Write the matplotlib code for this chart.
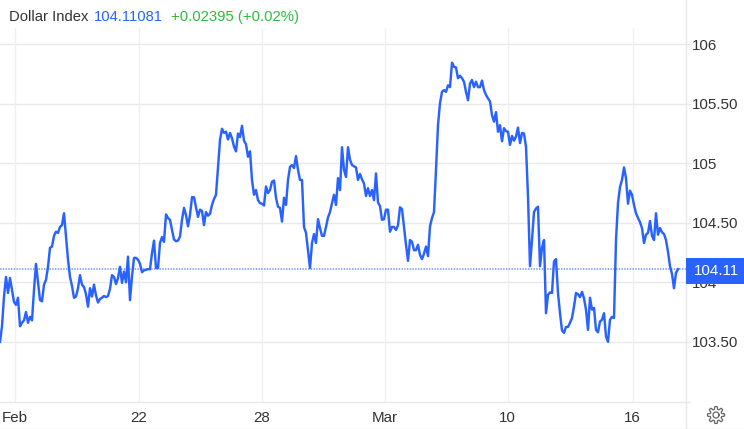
import numpy as np
from matplotlib import pyplot as plt
from matplotlib.lines import Line2D

#one reading every 2 px along the line
values = [
    103.50, 103.63, 103.88, 104.045, 103.91, 104.036, 103.935, 103.835, 103.81, 103.87,
    103.63, 103.66, 103.68, 103.75, 103.66, 103.71, 103.68, 103.935, 104.155, 104.005,
    103.85, 103.84, 103.98, 104.02, 104.13, 104.29, 104.30, 104.39, 104.425, 104.415,
    104.465, 104.48, 104.58, 104.38, 104.19, 104.045, 103.97, 103.87, 103.88, 103.95,
    104.06, 103.98, 103.96, 103.90, 103.795, 103.95, 103.88, 103.98, 103.89, 103.83,
    103.86, 103.87, 103.885, 103.875, 103.885, 103.945, 104.06, 104.045, 103.985, 104.035,
    104.13, 103.995, 104.09, 104.0, 104.215, 103.85, 104.05, 104.205, 104.205, 104.19,
    104.155, 104.085, 104.10, 104.105, 104.11, 104.11, 104.245, 104.35, 104.12, 104.12,
    104.33, 104.38, 104.34, 104.57, 104.54, 104.525, 104.44, 104.36, 104.345, 104.35,
    104.385, 104.525, 104.625, 104.565, 104.47, 104.565, 104.715, 104.715, 104.63, 104.55,
    104.61, 104.60, 104.48, 104.59, 104.56, 104.575, 104.65, 104.70, 104.735, 104.97,
    105.195, 105.29, 105.255, 105.265, 105.20, 105.255, 105.21, 105.14, 105.10, 105.25,
    105.22, 105.315, 105.19, 105.16, 105.055, 105.10, 104.86, 104.735, 104.775, 104.69,
    104.665, 104.66, 104.645, 104.805, 104.75, 104.775, 104.845, 104.855, 104.71, 104.635,
    104.625, 104.51, 104.71, 104.65, 104.86, 104.97, 104.985, 104.96, 105.06, 104.945,
    104.86, 104.86, 104.465, 104.415, 104.27, 104.12, 104.33, 104.405, 104.33, 104.53,
    104.455, 104.39, 104.39, 104.465, 104.545, 104.59, 104.665, 104.735, 104.65, 104.875,
    104.775, 105.135, 104.945, 104.885, 105.135, 105.03, 104.985, 104.975, 104.965, 104.86,
    104.91, 104.865, 104.83, 104.725, 104.79, 104.725, 104.775, 104.69, 104.915, 104.67,
    104.64, 104.525, 104.53, 104.61, 104.61, 104.425, 104.465, 104.465, 104.44, 104.48,
    104.63, 104.615, 104.465, 104.315, 104.18, 104.355, 104.34, 104.27, 104.27, 104.315,
    104.23, 104.195, 104.24, 104.30, 104.22, 104.47, 104.54, 104.59, 104.945, 105.32,
    105.505, 105.60, 105.615, 105.60, 105.655, 105.64, 105.845, 105.81, 105.805, 105.715,
    105.735, 105.715, 105.685, 105.60, 105.53, 105.67, 105.70, 105.64, 105.685, 105.64,
    105.64, 105.695, 105.615, 105.575, 105.545, 105.52, 105.405, 105.35, 105.43, 105.265,
    105.32, 105.185, 105.295, 105.27, 105.265, 105.155, 105.23, 105.19, 105.225, 105.30,
    105.17, 105.255, 105.25, 105.14, 104.72, 104.135, 104.355, 104.59, 104.62, 104.635,
    104.135, 104.29, 104.355, 103.74, 103.895, 103.915, 103.91, 104.175, 104.195, 103.91,
    103.74, 103.595, 103.575, 103.625, 103.625, 103.66, 103.70, 103.795, 103.91, 103.90,
    103.875, 103.92, 103.865, 103.77, 103.60, 103.87, 103.77, 103.785, 103.60, 103.58,
    103.67, 103.685, 103.74, 103.545, 103.50, 103.685, 103.71, 103.70, 104.355, 104.665,
    104.80, 104.86, 104.965, 104.875, 104.66, 104.77, 104.735, 104.65, 104.58, 104.54,
    104.505, 104.455, 104.33, 104.40, 104.415, 104.515, 104.39, 104.355, 104.58, 104.40,
    104.455, 104.42, 104.405, 104.355, 104.255, 104.135, 104.07, 103.95, 104.08, 104.11,
]
x_ticks = [7.25, 69.25, 130.75, 192.25, 253.75, 316.25]
x_labels = ["Feb", "22", "28", "Mar", "10", "16"]
y_ticks = [103.5, 104, 104.5, 105, 105.5, 106]
y_labels = ["103.50", "104", "104.50", "105", "105.50", "106"]
last_price = 104.11

BLUE = "#2962ff"
GRID = "#e9e9ec"
TEXT = "#333333"
W, H = 744, 429

plt.rcParams['font.family'] = ['Liberation Sans', 'DejaVu Sans']

fig = plt.figure(figsize=(W / 100, H / 100), dpi=100)
ax = fig.add_axes([0, (H - 402) / H, 685.5 / W, 402 / H])
ax.set_xlim(0, 342.75)
ax.set_ylim(102.994, 106.372)

for s in ["top", "left"]:
    ax.spines[s].set_visible(False)
for s in ["right", "bottom"]:
    ax.spines[s].set_color(GRID)
    ax.spines[s].set_linewidth(1)

for v in y_ticks:
    ax.axhline(v, color=GRID, linewidth=1, zorder=1)
for t in x_ticks:
    ax.axvline(t, ymax=374 / 402, color="#f0f0f4", linewidth=1, zorder=1)

ax.axhline(last_price, color=BLUE, linewidth=1.1, linestyle=(0, (0.9, 0.9)), alpha=0.7, zorder=2)
ax.plot(np.arange(len(values)), values, color=BLUE, linewidth=1.75, zorder=3)

ax.yaxis.tick_right()
ax.set_yticks(y_ticks)
ax.set_yticklabels(y_labels)
ax.set_xticks(x_ticks)
ax.set_xticklabels(x_labels)
ax.tick_params(axis="y", length=3.5, width=1, color=GRID, labelsize=10.9, labelcolor=TEXT, pad=1)
ax.tick_params(axis="x", length=0, labelsize=10.9, labelcolor=TEXT, pad=6.5)

#last price tag covers the 104 label
tag_y = 1 - 271 / H
fig.patches.append(plt.Rectangle((686 / W, 1 - 284 / H), 58 / W, 26 / H, transform=fig.transFigure,
                                 facecolor=BLUE, edgecolor="none", zorder=5))
fig.text(694 / W, tag_y, "104.11", color="white", fontsize=10.9, va="center", ha="left", zorder=6)

#header
fig.text(9 / W, 1 - 17 / H, "Dollar Index", color=TEXT, fontsize=10.6, va="center")
fig.text(94 / W, 1 - 17 / H, "104.11081", color=BLUE, fontsize=10.6, va="center")
fig.text(171 / W, 1 - 17 / H, "+0.02395 (+0.02%)", color="#2ebd3f", fontsize=10.7, va="center")

#bottom strip lines
fig.add_artist(Line2D([0, 1], [1 - 428.5 / H, 1 - 428.5 / H], color=GRID, linewidth=1))
fig.add_artist(Line2D([685.5 / W, 685.5 / W], [0, 1 - 402 / H], color=GRID, linewidth=1))
fig.add_artist(Line2D([685 / W, 690 / W], [1 - 402 / H, 1 - 402 / H], color=GRID, linewidth=1))

#settings gear
ang = np.linspace(0, 2 * np.pi, 145)
rad = 7.2 + 1.3 * np.clip(3 * np.cos(8 * ang), -1, 1)
fig.add_artist(Line2D((716 + rad * np.cos(ang)) / W, (H - 415 - rad * np.sin(ang)) / H, color="#666666", linewidth=0.9))
fig.add_artist(Line2D((716 + 3 * np.cos(ang)) / W, (H - 415 - 3 * np.sin(ang)) / H, color="#666666", linewidth=0.9))

fig.savefig("out.png", dpi=100)
